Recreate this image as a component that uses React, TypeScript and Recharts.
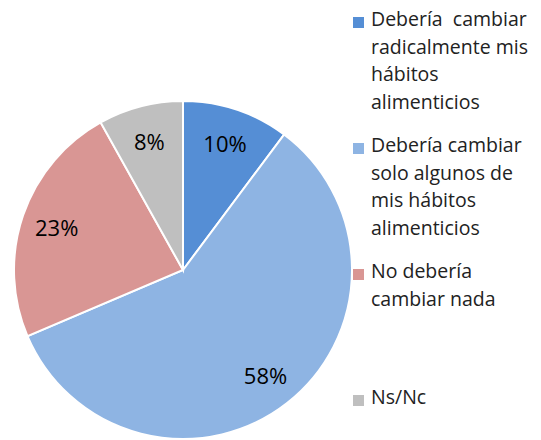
import React from 'react';
import { PieChart, Pie, Cell, Legend } from 'recharts';

const categories = [
  'Debería  cambiar\nradicalmente mis\nhábitos\nalimenticios',
  'Debería cambiar\nsolo algunos de\nmis hábitos\nalimenticios',
  'No debería\ncambiar nada',
  'Ns/Nc',
];
const values = [10.2, 58.4, 23.3, 8.1];
const colors = ['#558ED5', '#8EB4E3', '#D99694', '#BFBFBF'];

const data = categories.map((name, i) => ({ name, value: values[i] }));

const RAD = Math.PI / 180;

const renderLabel = (props: any) => {
  const { cx, cy, midAngle, outerRadius, percent } = props;
  const r = outerRadius * 0.79;
  const x = cx + r * Math.cos(-midAngle * RAD);
  const y = cy + r * Math.sin(-midAngle * RAD);
  return (
    <text
      x={x}
      y={y}
      fill="#000"
      fontSize={22}
      fontFamily="Open Sans"
      textAnchor="middle"
      dominantBaseline="central"
    >
      {`${Math.round(percent * 100)}%`}
    </text>
  );
};

const LegendContent = () => (
  <div style={{ fontFamily: 'Open Sans', fontSize: 19.5, color: '#222' }}>
    {data.map((d, i) => (
      <div key={i} style={{ height: 126, display: 'flex', alignItems: 'flex-start' }}>
        <div
          style={{
            width: 11,
            height: 11,
            background: colors[i],
            marginTop: 8,
            marginRight: 7,
            flexShrink: 0,
          }}
        />
        <div style={{ whiteSpace: 'pre', lineHeight: '27.5px', marginTop: -4 }}>{d.name}</div>
      </div>
    ))}
  </div>
);

export default function App() {
  return (
    <div style={{ position: 'absolute', left: 0, top: 0, width: 541, height: 440, background: '#fff' }}>
      <PieChart width={541} height={440} margin={{ top: 0, right: 0, bottom: 0, left: 0 }}>
        <Pie
          data={data}
          dataKey="value"
          nameKey="name"
          cx={183}
          cy={270}
          outerRadius={169}
          startAngle={90}
          endAngle={-270}
          stroke="#fff"
          strokeWidth={2}
          label={renderLabel}
          labelLine={false}
          isAnimationActive={false}
        >
          {data.map((d, i) => (
            <Cell key={i} fill={colors[i]} />
          ))}
        </Pie>
        <Legend
          layout="vertical"
          content={<LegendContent />}
          wrapperStyle={{ position: 'absolute', left: 353, top: 9, width: 188 }}
        />
      </PieChart>
    </div>
  );
}
